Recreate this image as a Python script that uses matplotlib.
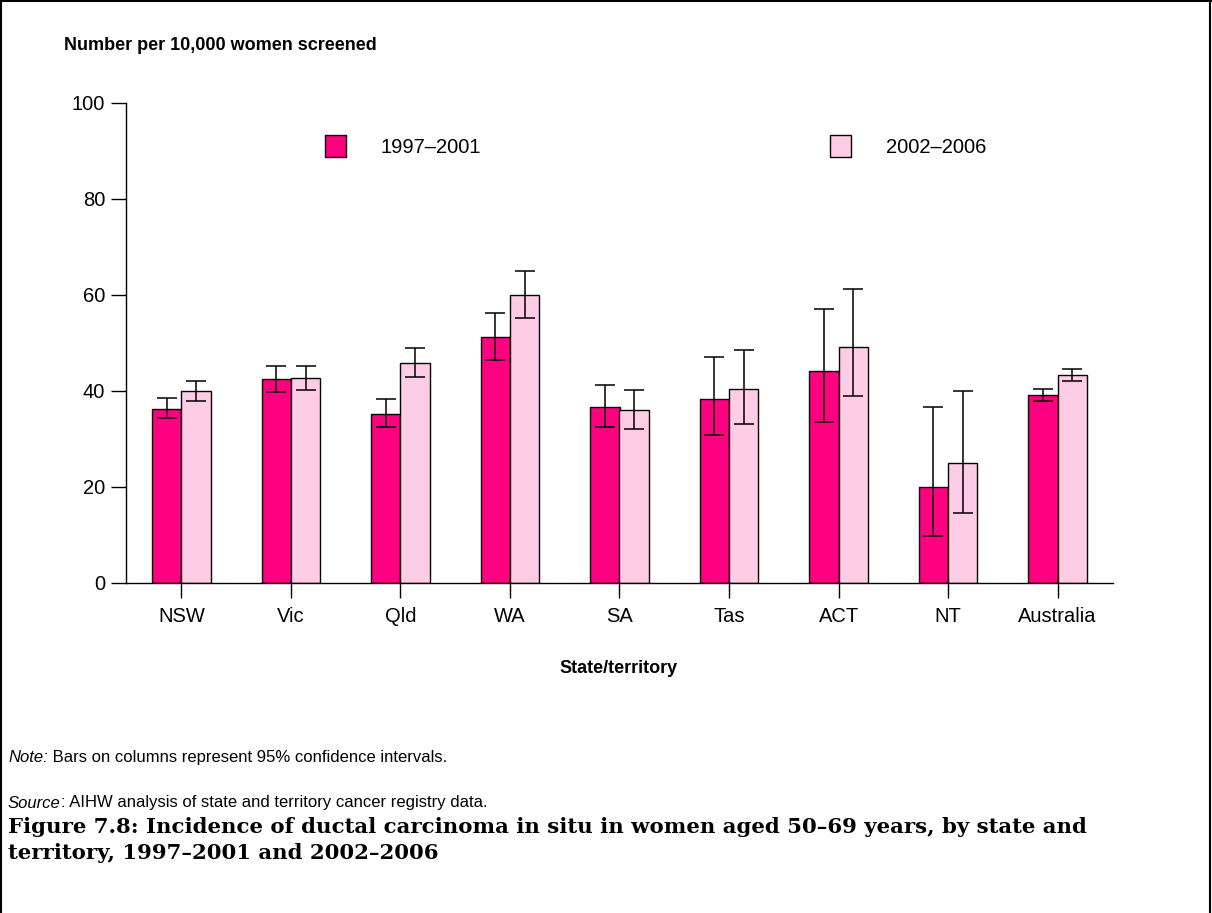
# Figure 7.8 - DCIS incidence by state/territory, 1997-2001 vs 2002-2006

import matplotlib.pyplot as plt
import numpy as np
from matplotlib.lines import Line2D
from matplotlib.patches import Patch

plt.rcParams['font.family'] = ['Liberation Sans', 'DejaVu Sans']

states = ['NSW', 'Vic', 'Qld', 'WA', 'SA', 'Tas', 'ACT', 'NT', 'Australia']
series = ['1997\u20132001', '2002\u20132006']

rate_9701 = [36.3, 42.6, 35.3, 51.3, 36.7, 38.4, 44.1, 20.1, 39.1]
low_9701 = [34.3, 39.8, 32.5, 46.5, 32.5, 30.8, 33.5, 9.7, 37.9]
high_9701 = [38.6, 45.3, 38.3, 56.3, 41.3, 47.1, 57.1, 36.7, 40.5]

rate_0206 = [39.9, 42.8, 45.8, 60.1, 36.0, 40.4, 49.1, 25.1, 43.3]
low_0206 = [37.9, 40.2, 42.9, 55.3, 32.1, 33.1, 38.9, 14.6, 42.1]
high_0206 = [42.1, 45.3, 48.9, 65.0, 40.3, 48.6, 61.3, 40.1, 44.6]

dark_pink = '#FF0080'
light_pink = '#FFCCE6'

W, H = 1212, 913
fig = plt.figure(figsize=(W / 100, H / 100), dpi=100)


def fx(px):
    return px / W


def fy(py):
    return 1 - py / H


ax = fig.add_axes([fx(126), fy(583), fx(1113) - fx(126), fy(103) - fy(583)])

x = np.arange(len(states))
w = 0.268

r1 = np.array(rate_9701)
r2 = np.array(rate_0206)
err1 = [r1 - np.array(low_9701), np.array(high_9701) - r1]
err2 = [r2 - np.array(low_0206), np.array(high_0206) - r2]

ax.bar(x - w / 2, r1, w, color=dark_pink, edgecolor='black', linewidth=1.0, zorder=2)
ax.bar(x + w / 2, r2, w, color=light_pink, edgecolor='black', linewidth=1.0, zorder=2)
ax.errorbar(x - w / 2, r1, yerr=err1, fmt='none', ecolor='black', elinewidth=1.1,
            capsize=7.4, capthick=1.1, zorder=3)
ax.errorbar(x + w / 2, r2, yerr=err2, fmt='none', ecolor='black', elinewidth=1.1,
            capsize=7.4, capthick=1.1, zorder=3)

ax.set_xlim(-0.505, len(states) - 1 + 0.505)
ax.set_ylim(0, 100)
ax.set_yticks([0, 20, 40, 60, 80, 100])
ax.set_xticks(x)
ax.set_xticklabels(states)
ax.tick_params(axis='both', labelsize=14.5, direction='out', length=11, width=1, color='black')
ax.tick_params(axis='x', pad=6)
ax.tick_params(axis='y', pad=4)
for s in ['top', 'right']:
    ax.spines[s].set_visible(False)
for s in ['left', 'bottom']:
    ax.spines[s].set_linewidth(1)

# legend boxes placed separately like the original
h1 = Patch(facecolor=dark_pink, edgecolor='black', linewidth=1)
h2 = Patch(facecolor=light_pink, edgecolor='black', linewidth=1)
for h, lab, px in [(h1, series[0], 325), (h2, series[1], 830)]:
    leg = fig.legend([h], [lab], loc='center left', bbox_to_anchor=(fx(px), fy(146)),
                     frameon=False, fontsize=14.5, borderpad=0, borderaxespad=0,
                     handlelength=1.03, handleheight=1.29, handletextpad=1.75)

fig.text(fx(64), fy(46), 'Number per 10,000 women screened', fontsize=13,
         fontweight='bold', va='center', ha='left')
fig.text(fx(619), fy(668), 'State/territory', fontsize=13, fontweight='bold',
         va='center', ha='center')

# footnotes: italic lead word followed by regular text
renderer = fig.canvas.get_renderer()
for lead, rest, py in [('Note:', ' Bars on columns represent 95% confidence intervals.', 757),
                       ('Source', ': AIHW analysis of state and territory cancer registry data.', 803)]:
    t = fig.text(fx(8), fy(py), lead, fontsize=12, style='italic', va='center', ha='left')
    bb = t.get_window_extent(renderer=renderer)
    fig.text(bb.x1 / W, fy(py), rest, fontsize=12, va='center', ha='left')

caption = ('Figure 7.8: Incidence of ductal carcinoma in situ in women aged 50\u201369 years, by state and\n'
           'territory, 1997\u20132001 and 2002\u20132006')
fig.text(fx(8), fy(840), caption, fontsize=15.3, fontweight='bold', va='center', ha='left',
         family=['DejaVu Serif'], linespacing=1.4)

# frame around figure (no bottom edge)
for xs, ys in [([fx(1), fx(1)], [0, 1]), ([0, 1], [fy(1), fy(1)]), ([fx(1210), fx(1210)], [0, 1])]:
    fig.add_artist(Line2D(xs, ys, color='black', linewidth=1.5))

plt.savefig('out.png', dpi=100)
